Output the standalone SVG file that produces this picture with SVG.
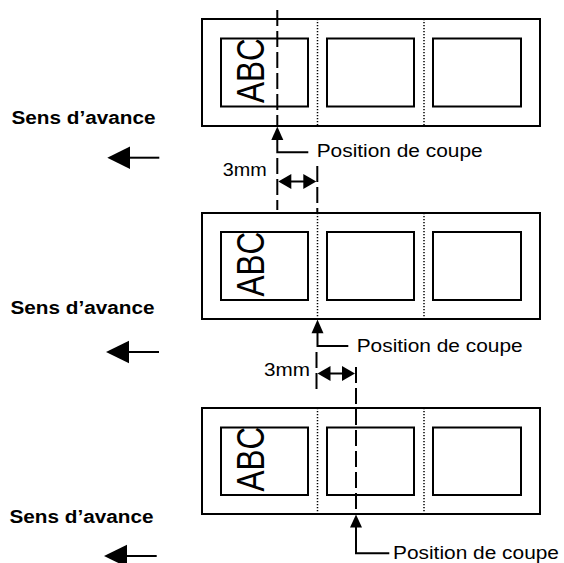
<svg xmlns="http://www.w3.org/2000/svg" width="564" height="563" viewBox="0 0 564 563">
<defs>
<style>
.strip{fill:none;stroke:#000;stroke-width:2}
.box{fill:none;stroke:#000;stroke-width:2}
.dot{stroke:#000;stroke-width:1.5;stroke-dasharray:1.2 1.8;fill:none}
.cut{stroke:#000;stroke-width:2;stroke-dasharray:16 5;fill:none}
.solid{stroke:#000;stroke-width:2;fill:none}
.lbl{font-family:"Liberation Sans",Arial,sans-serif;font-size:18.8px;fill:#000}
.bold{font-family:"Liberation Sans",Arial,sans-serif;font-size:17.5px;font-weight:bold;fill:#000}
.abc{font-family:"Liberation Sans",Arial,sans-serif;font-size:31.5px;fill:#000}
.head{fill:#000}
</style>
</defs>
<rect width="564" height="563" fill="#fff"/>

<!-- strip 1 -->
<g id="strip1">
<rect class="strip" x="202" y="19" width="338" height="107"/>
<rect class="box" x="221" y="38.5" width="87" height="68"/>
<rect class="box" x="327" y="38.5" width="87" height="68"/>
<rect class="box" x="433" y="38.5" width="88" height="68"/>
<line class="dot" x1="317.5" y1="19" x2="317.5" y2="126"/>
<line class="dot" x1="424" y1="19" x2="424" y2="126"/>
<text class="abc" transform="translate(263.5,103) scale(1.22,1) rotate(-90)">ABC</text>
</g>

<!-- strip 2 -->
<g id="strip2">
<rect class="strip" x="202" y="213" width="338" height="106"/>
<rect class="box" x="221" y="232" width="87" height="68"/>
<rect class="box" x="327" y="232" width="87" height="68"/>
<rect class="box" x="433" y="232" width="88" height="68"/>
<line class="dot" x1="317.5" y1="213" x2="317.5" y2="319"/>
<line class="dot" x1="424" y1="213" x2="424" y2="319"/>
<text class="abc" transform="translate(263.5,296.5) scale(1.22,1) rotate(-90)">ABC</text>
</g>

<!-- strip 3 -->
<g id="strip3">
<rect class="strip" x="202" y="408" width="338" height="106"/>
<rect class="box" x="221" y="427.5" width="87" height="67.5"/>
<rect class="box" x="327" y="427.5" width="87" height="67.5"/>
<rect class="box" x="433" y="427.5" width="88" height="67.5"/>
<line class="dot" x1="317.5" y1="408" x2="317.5" y2="514"/>
<line class="dot" x1="424" y1="408" x2="424" y2="514"/>
<text class="abc" transform="translate(263.5,491.5) scale(1.22,1) rotate(-90)">ABC</text>
</g>

<!-- labels -->
<g id="labels">
<text class="bold" x="11.5" y="124" textLength="144" lengthAdjust="spacingAndGlyphs">Sens d’avance</text>
<text class="bold" x="10.5" y="314" textLength="144" lengthAdjust="spacingAndGlyphs">Sens d’avance</text>
<text class="bold" x="9.5" y="523" textLength="144" lengthAdjust="spacingAndGlyphs">Sens d’avance</text>
<text class="lbl" x="316.7" y="157" textLength="166" lengthAdjust="spacingAndGlyphs">Position de coupe</text>
<text class="lbl" x="356.7" y="352" textLength="166" lengthAdjust="spacingAndGlyphs">Position de coupe</text>
<text class="lbl" x="393" y="558.5" textLength="166" lengthAdjust="spacingAndGlyphs">Position de coupe</text>
<text class="lbl" x="222.7" y="176" textLength="44" lengthAdjust="spacingAndGlyphs">3mm</text>
<text class="lbl" x="264" y="376" textLength="46" lengthAdjust="spacingAndGlyphs">3mm</text>
</g>

<!-- connectors -->
<g id="connectors">
<!-- feed arrows -->
<line class="solid" x1="128" y1="157.7" x2="159.3" y2="157.7" stroke-width="3"/>
<polygon class="head" points="107.3,157.7 130,146.5 130,169"/>
<line class="solid" x1="128" y1="352" x2="159" y2="352" stroke-width="3"/>
<polygon class="head" points="106,352 129,340.8 129,363.3"/>
<line class="solid" x1="125" y1="556" x2="156.7" y2="556" stroke-width="3"/>
<polygon class="head" points="104,556 127,544.8 127,567.2"/>

<!-- cut line 1 -->
<line class="cut" x1="277.3" y1="10" x2="277.3" y2="126"/>
<polyline class="solid" points="277.3,130 277.3,152.3 308.3,152.3"/>
<polygon class="head" points="277.3,126.5 271.3,140 283.3,140"/>
<line class="cut" x1="277.3" y1="158" x2="277.3" y2="210" stroke-dasharray="10 5 23 5 10"/>
<!-- 3mm dimension 1 -->
<line class="cut" x1="317.3" y1="166" x2="317.3" y2="213" stroke-dasharray="22 5"/>
<line class="solid" x1="285" y1="181.5" x2="310" y2="181.5" stroke-width="2.5"/>
<polygon class="head" points="278.3,181.5 291.3,174 291.3,189"/>
<polygon class="head" points="316.3,181.5 303.3,174 303.3,189"/>

<!-- cut line 2 -->
<polyline class="solid" points="317.5,328 317.5,346 348.3,346"/>
<polygon class="head" points="317.5,319.5 311.5,333.3 323.5,333.3"/>
<line class="cut" x1="316.5" y1="352" x2="316.5" y2="392" stroke-dasharray="11 4 24 5"/>
<!-- 3mm dimension 2 -->
<line class="solid" x1="324" y1="373.5" x2="349" y2="373.5" stroke-width="2.5"/>
<polygon class="head" points="317.5,373.5 330.5,366 330.5,381"/>
<polygon class="head" points="355,373.5 342,366 342,381"/>

<!-- cut line 3 -->
<line class="cut" x1="356" y1="367" x2="356" y2="514"/>
<polyline class="solid" points="356,522 356,553.3 389.3,553.3"/>
<polygon class="head" points="356,514.5 350,527.5 362,527.5"/>
</g>
</svg>
